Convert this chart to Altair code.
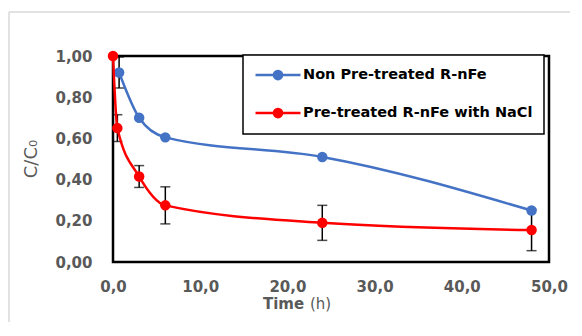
import altair as alt
import pandas as pd

series_names = ["Non Pre-treated R-nFe", "Pre-treated R-nFe with NaCl"]
series_colors = ["#4472C4", "#FF0000"]

blue_time = [0.7, 3, 6, 24, 48]
blue_value = [0.92, 0.70, 0.605, 0.51, 0.25]
blue_err = [0.075, 0, 0, 0, 0]

red_time = [0, 0.5, 3, 6, 24, 48]
red_value = [1.00, 0.65, 0.415, 0.275, 0.19, 0.155]
red_err = [0, 0.065, 0.053, 0.09, 0.085, 0.10]

x_ticks = [0, 10, 20, 30, 40, 50]
y_ticks = [0, 0.2, 0.4, 0.6, 0.8, 1.0]

rows = []
for t, v, e in zip(blue_time, blue_value, blue_err):
    rows.append({"series": series_names[0], "time": t, "value": v, "err": e})
for t, v, e in zip(red_time, red_value, red_err):
    rows.append({"series": series_names[1], "time": t, "value": v, "err": e})
df = pd.DataFrame(rows)
df["lo"] = df["value"] - df["err"]
df["hi"] = df["value"] + df["err"]

W, H = 436, 206
GREY = "#595959"
FONT = "DejaVu Sans"

SYM = "M-1,0L5,0M2.55,0A0.55,0.55,0,1,1,1.45,0A0.55,0.55,0,1,1,2.55,0Z"

legend = alt.Legend(
    title=None, orient="none", legendX=130, legendY=-1, padding=11,
    strokeColor="black", fillColor="white",
    symbolType=SYM, symbolSize=225, symbolStrokeWidth=2.5, symbolOpacity=1,
    labelOffset=31, rowPadding=18, labelFont=FONT, labelFontSize=14.5,
    labelFontWeight="bold", labelColor="black", labelLimit=500,
)

color = alt.Color("series:N", scale=alt.Scale(domain=series_names, range=series_colors), legend=legend)

x = alt.X("time:Q", scale=alt.Scale(domain=[0, 50], nice=False),
          axis=alt.Axis(values=x_ticks, title=None, grid=False, ticks=False, domain=False,
                        labelFlush=False,
                        labelExpr="replace(format(datum.value, '.1f'), '.', ',')",
                        labelFont=FONT, labelFontSize=15, labelFontWeight="bold",
                        labelColor=GREY, labelPadding=17))
y = alt.Y("value:Q", scale=alt.Scale(domain=[0, 1], nice=False),
          axis=alt.Axis(values=y_ticks, title=None, grid=False, ticks=False, domain=False,
                        labelFlush=False,
                        labelExpr="replace(format(datum.value, '.2f'), '.', ',')",
                        labelFont=FONT, labelFontSize=15, labelFontWeight="bold",
                        labelColor=GREY, labelPadding=21))

base = alt.Chart(df)
errdf = base.transform_filter("datum.err > 0")

err_rule = errdf.mark_rule(color="black", strokeWidth=1.5).encode(
    x=x, y=alt.Y("lo:Q", scale=alt.Scale(domain=[0, 1], nice=False)), y2="hi:Q")
cap_lo = errdf.mark_tick(color="black", orient="horizontal", size=10, thickness=1.5).encode(
    x=x, y=alt.Y("lo:Q"))
cap_hi = errdf.mark_tick(color="black", orient="horizontal", size=10, thickness=1.5).encode(
    x=x, y=alt.Y("hi:Q"))

layers = [err_rule, cap_lo, cap_hi]
for name in series_names:
    sub = base.transform_filter(alt.datum.series == name)
    layers.append(sub.mark_line(strokeWidth=2.5, interpolate="monotone").encode(x=x, y=y, color=color))
    layers.append(sub.mark_point(filled=True, size=110, opacity=1).encode(x=x, y=y, color=color))

one = pd.DataFrame({"a": [0]})
ytitle = alt.Chart(one).mark_text(text="C/C₀", angle=270, font=FONT, fontSize=18, color=GREY,
                                  align="center", baseline="middle").encode(
    x=alt.value(-81), y=alt.value(103))
xt1 = alt.Chart(one).mark_text(text="Time", font=FONT, fontSize=15, fontWeight="bold", color=GREY,
                               align="left", baseline="middle").encode(
    x=alt.value(150), y=alt.value(248))
xt2 = alt.Chart(one).mark_text(text="(h)", font=FONT, fontSize=15, color=GREY,
                               align="left", baseline="middle").encode(
    x=alt.value(197), y=alt.value(248))
border_l = alt.Chart(one).mark_rule(color="#d9d9d9", strokeWidth=1.5).encode(
    x=alt.value(-104), y=alt.value(-44), y2=alt.value(300))
border_t = alt.Chart(one).mark_rule(color="#d9d9d9", strokeWidth=1.5).encode(
    x=alt.value(-104), x2=alt.value(500), y=alt.value(-44))

chart = alt.layer(border_l, border_t, *layers, ytitle, xt1, xt2).properties(
    width=W, height=H,
    autosize=alt.AutoSizeParams(type="none"),
    padding={"left": 105, "top": 48, "right": 21, "bottom": 60},
).configure_view(stroke="black", strokeWidth=2.5).configure_legend(strokeWidth=1.5)

chart.save("out.html", embed_options={"renderer": "svg", "actions": False})
